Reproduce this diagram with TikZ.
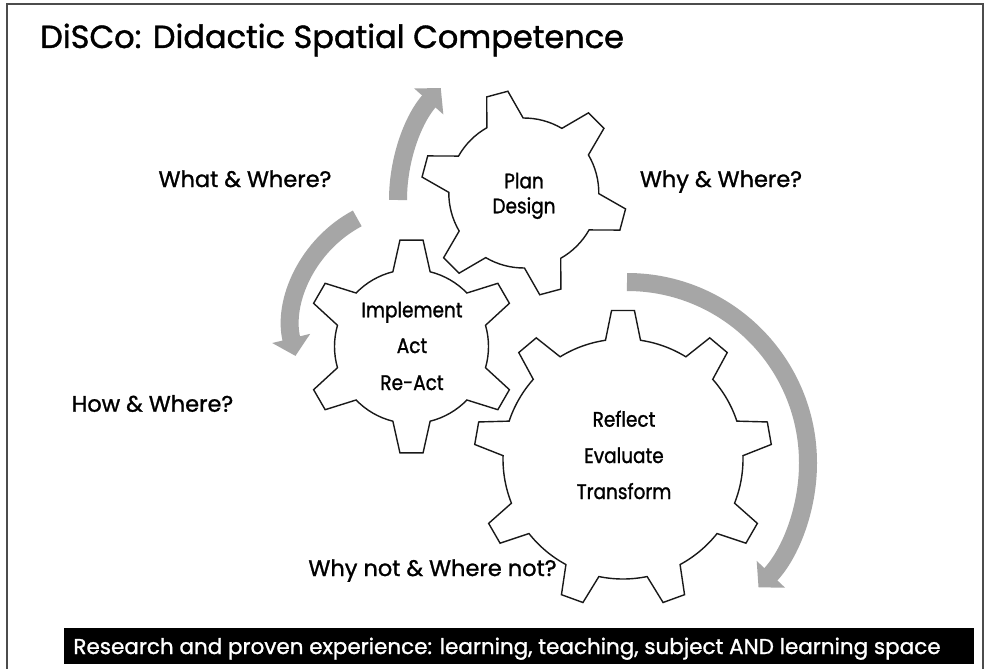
\documentclass[tikz,border=0pt]{standalone}
\usepackage{fontspec}
\setmainfont{Poppins}[FakeBold=1.2]
\newfontfamily\gearfont{Poppins}[FakeStretch=0.88,FakeBold=1.2]
\usetikzlibrary{arrows.meta}
\tikzset{
  gearline/.style={draw=black!90, line width=1.4pt, line join=miter},
  arrowband/.style={draw=black!35, line width=18pt, -{Triangle[width=38pt,length=18pt]}},
  lbl/.style={anchor=base, inner sep=0pt, font=\fontsize{22.5}{22.5}\selectfont},
  geartxt/.style={anchor=base, inner sep=0pt, font=\gearfont\fontsize{21}{21}\selectfont},
}
% #1 cx, #2 cy, #3 inner r, #4 outer r, #5 teeth, #6 first tooth angle, #7 root half angle, #8 tip half angle
\newcommand{\mygear}[8]{%
  \pgfmathsetmacro{\gstep}{360/#5}%
  \begin{scope}[shift={(#1,#2)}]
    \draw[gearline] ({#6-#7}:#3)
      \foreach \k [evaluate=\k as \ga using #6+(\k-1)*\gstep] in {1,...,#5} {
        -- ({\ga-#8}:#4) -- ({\ga+#8}:#4) -- ({\ga+#7}:#3)
        arc[start angle={\ga+#7}, end angle={\ga+\gstep-#7}, radius=#3pt]
      } -- cycle;
  \end{scope}%
}
\begin{document}
\begin{tikzpicture}[x=1pt,y=1pt]
  \useasboundingbox (0,0) rectangle (988,-669);
  \fill[white] (0,0) rectangle (988,-669);
  % frame
  \draw[line width=2pt, black!70] (7,-669) -- (7,-4) -- (983,-4) -- (983,-669);
  % title
  \node[anchor=base west, inner sep=0pt, font=\fontsize{32}{32}\selectfont] (title) at (40,-48) {DiSCo: Didactic Spatial Competence};
  % gears
  \mygear{523.8}{-193}{75}{103}{6}{105}{14.5}{6.1}
  \mygear{411.5}{-346.5}{77}{107}{6}{90}{14}{6.2}
  \mygear{623}{-459}{120}{149}{9}{90}{8.4}{4.4}
  % gear texts
  \node[geartxt] (plan1) at (524,-188.3) {Plan};
  \node[geartxt] (plan2) at (524,-213.3) {Design};
  \node[geartxt] (impl1) at (412,-317.3) {Implement};
  \node[geartxt] (impl2) at (412,-353) {Act};
  \node[geartxt] (impl3) at (412,-390) {Re-Act};
  \node[geartxt] (refl1) at (624,-426.7) {Reflect};
  \node[geartxt] (refl2) at (624,-463) {Evaluate};
  \node[geartxt] (refl3) at (624,-499) {Transform};
  % arrows
  \coordinate (c1) at (566,-200);
  \coordinate (c2) at (415,-327);
  \coordinate (c3) at (627,-463);
  \draw[arrowband] (c1) ++(180:168) arc[start angle=180, end angle=138.2, radius=168pt];
  \draw[arrowband] (c2) ++(118:123) arc[start angle=118, end angle=193.6, radius=123pt];
  \draw[arrowband] (c3) ++(90:181) arc[start angle=90, end angle=-43.4, radius=181pt];
  % side labels
  \node[lbl] (what) at (245,-187) {What \& Where?};
  \node[lbl] (why) at (721,-187) {Why \& Where?};
  \node[lbl] (how) at (152.5,-411.7) {How \& Where?};
  \node[lbl] (whynot) at (432.5,-576) {Why not \& Where not?};
  % bottom bar
  \node[fill=black, inner sep=0pt, minimum width=910pt, minimum height=36pt] (bar) at (519,-646) {};
  \node[anchor=base, inner sep=0pt, text=white, font=\fontsize{21.5}{21.5}\selectfont] (bartext) at (507,-654) {Research and proven experience: learning, teaching, subject AND learning space};
\end{tikzpicture}
\end{document}
